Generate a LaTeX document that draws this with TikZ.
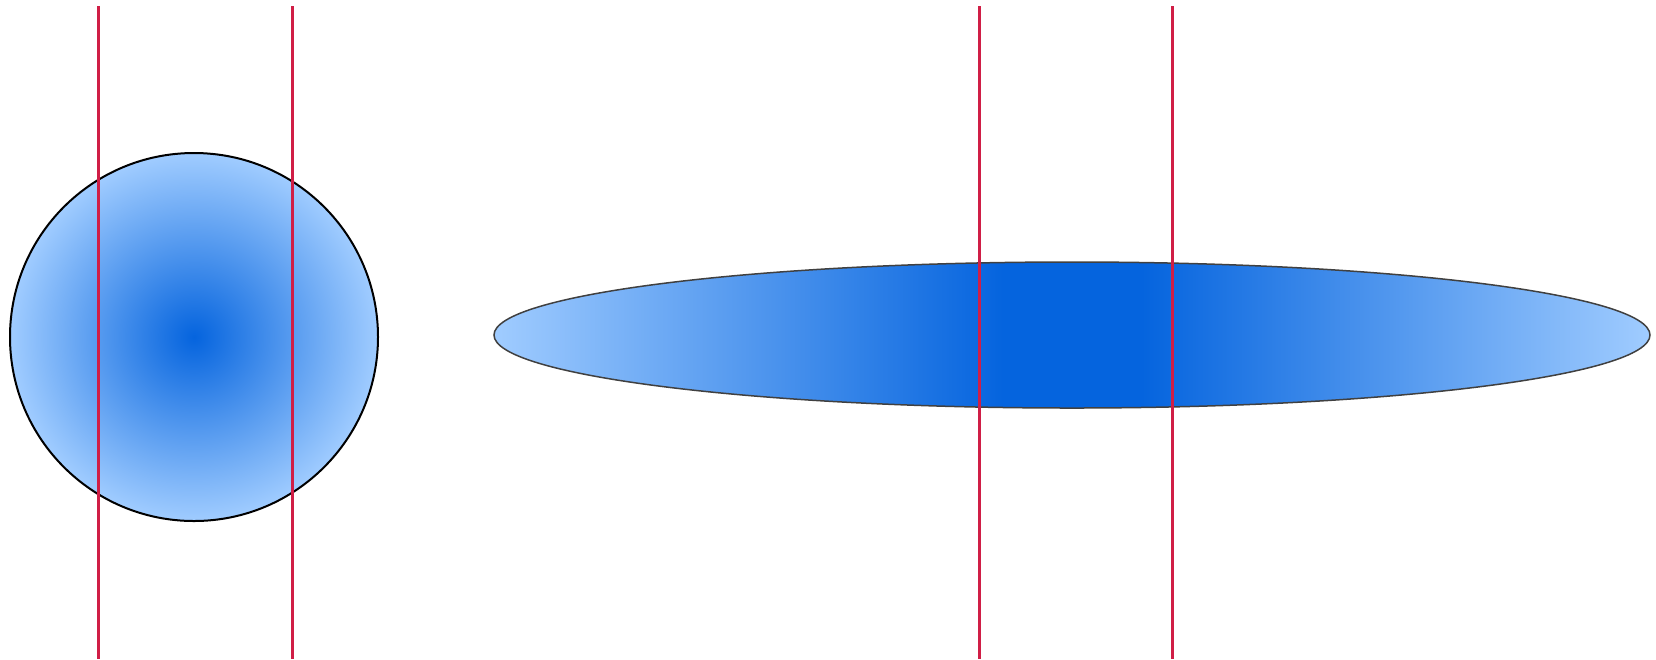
\documentclass[tikz,border=0pt]{standalone}
\usepackage{xcolor}
\usepackage{tikz}
\definecolor{blobdark}{RGB}{5,100,222}
\definecolor{bloblight}{RGB}{160,204,255}
\definecolor{cutred}{RGB}{208,30,70}
\pgfdeclareradialshading{blobball}{\pgfpoint{0bp}{0bp}}{%
  color(0bp)=(blobdark); color(25bp)=(bloblight); color(50bp)=(bloblight)}
\pgfdeclarehorizontalshading{blobflat}{100bp}{%
  color(0bp)=(bloblight); color(25bp)=(bloblight); color(47bp)=(blobdark);
  color(53bp)=(blobdark); color(75bp)=(bloblight); color(100bp)=(bloblight)}
\tikzset{
  ballshape/.style ={draw=black,line width=0.2mm,shading=blobball},
  flatshape/.style ={draw=black!75,line width=0.15mm,shading=blobflat},
  cutline/.style   ={draw=cutred,line width=0.3mm},
}

\begin{document}
\begin{tikzpicture}[x=0.1mm,y=0.1mm]
\useasboundingbox (0,0) rectangle (1656,659);

% round blob
\path[ballshape] (194,322) circle [radius=184];

% stretched blob
\path[flatshape] (1072,324) ellipse [x radius=578, y radius=73];

% cuts
\foreach \x in {98.5,292.5,979,1172}{\draw[cutline] (\x,653) -- (\x,0);}

\end{tikzpicture}
\end{document}
